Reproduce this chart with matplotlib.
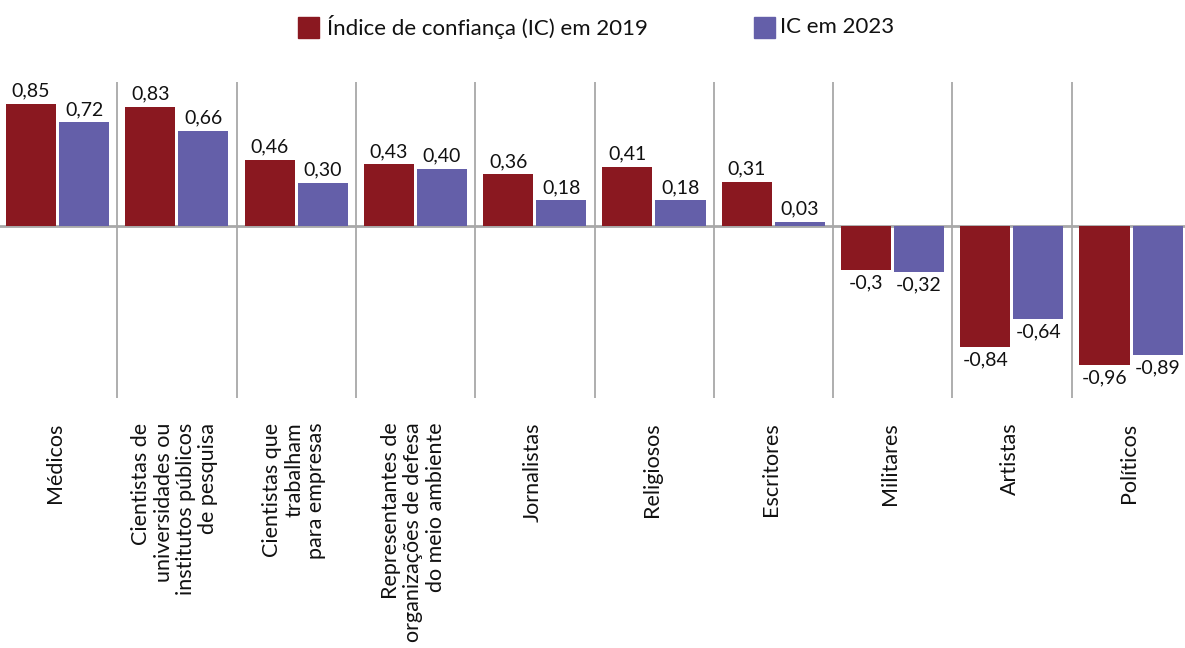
import matplotlib
matplotlib.use('Agg')
import matplotlib.pyplot as plt
import numpy as np
from matplotlib.patches import Rectangle

plt.rcParams['font.family'] = ['Lato', 'DejaVu Sans']

categorias = ['Médicos',
              'Cientistas de\nuniversidades ou\ninstitutos públicos\nde pesquisa',
              'Cientistas que\ntrabalham\npara empresas',
              'Representantes de\norganizações de defesa\ndo meio ambiente',
              'Jornalistas', 'Religiosos', 'Escritores', 'Militares',
              'Artistas', 'Políticos']
ic_2019 = [0.85, 0.83, 0.46, 0.43, 0.36, 0.41, 0.31, -0.30, -0.84, -0.96]
ic_2023 = [0.72, 0.66, 0.30, 0.40, 0.18, 0.18, 0.03, -0.32, -0.64, -0.89]
rotulos_2019 = ['0,85', '0,83', '0,46', '0,43', '0,36', '0,41', '0,31', '-0,3', '-0,84', '-0,96']
rotulos_2023 = ['0,72', '0,66', '0,30', '0,40', '0,18', '0,18', '0,03', '-0,32', '-0,64', '-0,89']

vermelho = '#8a1820'
roxo = '#645fa9'
cinza = '#a8a8a8'

fig = plt.figure(figsize=(11.85, 6.48), dpi=100)
ax = fig.add_axes([0, 0.3858, 1, 0.4877])

x = np.arange(len(categorias))
w = 0.42
ax.bar(x - 0.235, ic_2019, w, color=vermelho, zorder=2)
ax.bar(x + 0.21, ic_2023, w, color=roxo, zorder=2)

ax.axhline(0, color=cinza, lw=2, zorder=1)
for s in x[:-1] + 0.49:
    ax.axvline(s, color=cinza, lw=1.3, zorder=1)

for xs, vals, rots in [(x - 0.235, ic_2019, rotulos_2019), (x + 0.21, ic_2023, rotulos_2023)]:
    for xi, v, r in zip(xs, vals, rots):
        if v >= 0:
            ax.text(xi, v + 0.03, r, ha='center', va='bottom', fontsize=14, color='#111111', clip_on=False)
        else:
            ax.text(xi, v - 0.03, r, ha='center', va='top', fontsize=14, color='#111111', clip_on=False)

for xi, c in zip(x, categorias):
    ax.text(xi - 0.03, -1.36, c, rotation=90, ha='center', va='top', multialignment='right',
            fontsize=15.5, color='#111111', linespacing=1.15, clip_on=False)

ax.set_xlim(-0.495, 9.44)
ax.set_ylim(-1.19, 1.0)
ax.axis('off')

# legenda
fig.patches.append(Rectangle((298 / 1185, 1 - 38 / 648), 21 / 1185, 21 / 648,
                             transform=fig.transFigure, color=vermelho))
fig.text(327 / 1185, 1 - 27 / 648, 'Índice de confiança (IC) em 2019', va='center', fontsize=16, color='#111111')
fig.patches.append(Rectangle((754 / 1185, 1 - 38 / 648), 21 / 1185, 21 / 648,
                             transform=fig.transFigure, color=roxo))
fig.text(780 / 1185, 1 - 27 / 648, 'IC em 2023', va='center', fontsize=16, color='#111111')

fig.savefig('out.png', dpi=100)
